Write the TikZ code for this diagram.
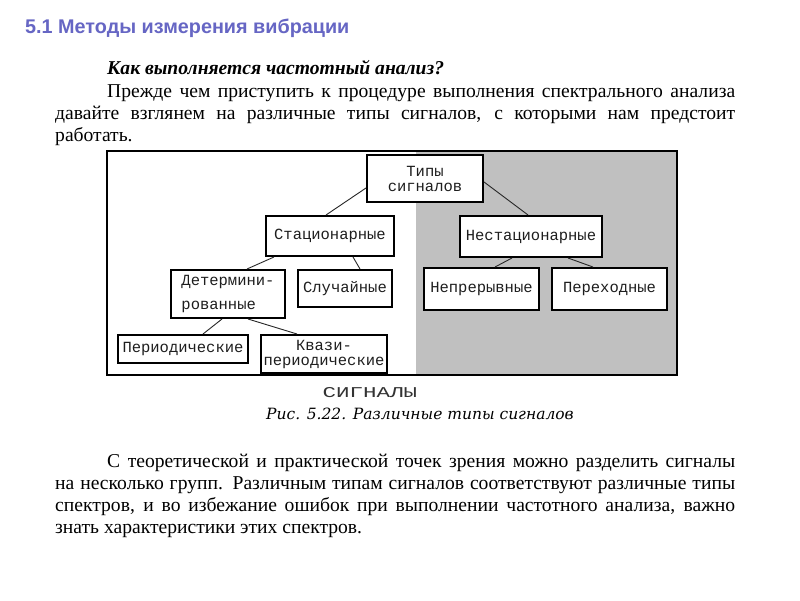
\documentclass[tikz,border=0pt]{standalone}
\usepackage{fontspec}
\setmainfont{Liberation Serif}
\newfontfamily\titlefont{Liberation Sans}
\newfontfamily\boxfont{Liberation Mono}
\newfontfamily\widefont[FakeStretch=1.5]{Liberation Mono}
\newfontfamily\capfont{DejaVu Serif}
\usetikzlibrary{calc}
\definecolor{titleblue}{RGB}{102,102,196}
\definecolor{panelgrey}{RGB}{192,192,192}
\definecolor{boxtext}{RGB}{30,30,30}
\begin{document}
\begin{tikzpicture}[x=1pt,y=-1pt,
  txt/.style={anchor=base west, inner sep=0pt, font=\fontsize{19.6}{22}\selectfont},
  sbox/.style={draw=black, line width=2pt, fill=white, inner sep=0pt, text=boxtext,
    font=\boxfont\fontsize{15.5}{15}\selectfont, align=center},
  conn/.style={draw=black!85, line width=0.9pt}]
\useasboundingbox (0,0) rectangle (800,600);
\fill[white] (0,0) rectangle (800,600);

\node[anchor=base west, inner sep=0pt, text=titleblue,
  font=\titlefont\bfseries\fontsize{19.8}{22}\selectfont] (title) at (25,33)
  {5.1 Методы измерения вибрации};

\node[txt, font=\bfseries\itshape\fontsize{19.6}{22}\selectfont] (question) at (107,74)
  {Как выполняется частотный анализ?};
\node[txt] (p1a) at (107,97) {\makebox[628pt][s]{Прежде чем приступить к процедуре выполнения спектрального анализа}};
\node[txt] (p1b) at (55,119.5) {\makebox[680pt][s]{давайте взглянем на различные типы сигналов, с которыми нам предстоит}};
\node[txt] (p1c) at (55,141.5) {работать.};

% figure frame
\fill[panelgrey] (416,151) rectangle (677,375);
\draw[line width=1.3pt] (107,151) rectangle (677,375);

% boxes
\node[sbox, minimum width=116pt, minimum height=47pt] (tipy) at (425,178.5)
  {Типы\\сигналов};
\node[sbox, minimum width=128pt, minimum height=40pt] (stat) at (330,236) {Стационарные};
\node[sbox, minimum width=114pt, minimum height=48pt, align=left] (det) at (228,294)
  {Детермини-\\[9pt]рованные};
\node[sbox, minimum width=94pt, minimum height=37pt] (sluch) at (345,288.5) {Случайные};
\node[sbox, minimum width=130pt, minimum height=28pt] (per) at (183,349) {Периодические};
\node[sbox, minimum width=126pt, minimum height=38pt] (kvazi) at (324,354)
  {Квази-\\периодические};
\node[sbox, minimum width=142pt, minimum height=41pt] (nestat) at (531,236.5) {Нестационарные};
\node[sbox, minimum width=115pt, minimum height=42pt] (nepr) at (481.5,289) {Непрерывные};
\node[sbox, minimum width=115pt, minimum height=42pt] (perekh) at (609.5,289) {\raisebox{3pt}{Переходные}};

% connectors
\draw[conn] ([yshift=-9.5pt]tipy.west) -- ([xshift=-4pt]stat.north);
\draw[conn] ([yshift=-3.5pt]tipy.east) -- ([xshift=-3pt]nestat.north);
\draw[conn] ([xshift=9pt]stat.south west) -- ([xshift=19pt]det.north);
\draw[conn] ([xshift=23pt]stat.south) -- ([xshift=15pt]sluch.north);
\draw[conn] ([xshift=-6pt]det.south) -- ([xshift=20pt]per.north);
\draw[conn] ([xshift=20pt]det.south) -- ([xshift=-27pt]kvazi.north);
\draw[conn] ([xshift=-19pt]nestat.south) -- ([xshift=13.5pt]nepr.north);
\draw[conn] ([xshift=37pt]nestat.south) -- ([xshift=-16.5pt]perekh.north);

% captions
\node[anchor=base, inner sep=0pt, text=black!80, font=\widefont\fontsize{15}{15}\selectfont]
  (signals) at (370,397) {СИГНАЛЫ};
\node[anchor=base, inner sep=0pt, font=\capfont\itshape\fontsize{15.5}{18}\selectfont]
  (caption) at (420,419) {Рис. 5.22. Различные типы сигналов};

% second paragraph
\node[txt] (p2a) at (107,467) {\makebox[628pt][s]{С теоретической и практической точек зрения можно разделить сигналы}};
\node[txt] (p2b) at (55,489) {\makebox[680pt][s]{на несколько групп. Различным типам сигналов соответствуют различные типы}};
\node[txt] (p2c) at (55,511) {\makebox[680pt][s]{спектров, и во избежание ошибок при выполнении частотного анализа, важно}};
\node[txt] (p2d) at (55,533) {знать характеристики этих спектров.};
\end{tikzpicture}
\end{document}
